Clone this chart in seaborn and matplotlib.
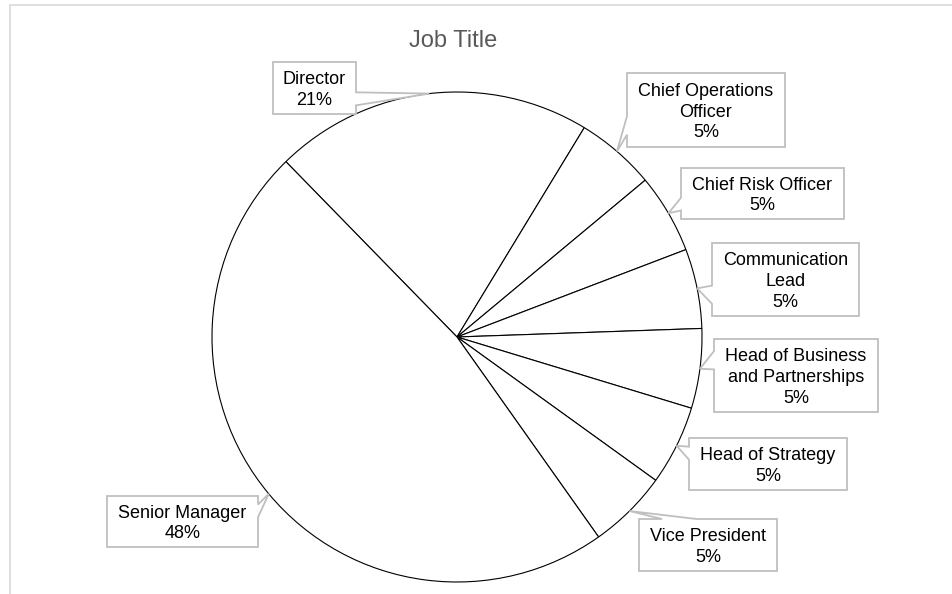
import numpy as np
import matplotlib
matplotlib.use("Agg")
import matplotlib.pyplot as plt
from matplotlib.patches import Polygon
import seaborn as sns

# ---- data ----
categories = ["Director", "Chief Operations\nOfficer", "Chief Risk Officer",
              "Communication\nLead", "Head of Business\nand Partnerships",
              "Head of Strategy", "Vice President", "Senior Manager"]
shares = [21.0, 5.25, 5.25, 5.25, 5.25, 5.25, 5.25, 47.5]
title = "Job Title"

# ---- layout (pixel coords, y measured from top) ----
W, H = 953, 594
center_px = (457, 337)
radius_px = 245
start_angle = 134.3
boxes = [  # x0, y0, x1, y1
    (273, 62, 356, 114),
    (627, 73, 785, 147),
    (681, 168, 844, 219),
    (712, 243, 859, 316),
    (714, 339, 878, 412),
    (689, 438, 847, 490),
    (639, 519, 777, 571),
    (107, 496, 258, 547),
]

sns.set_theme(style="white")
plt.rcParams["font.family"] = ["Liberation Sans", "DejaVu Sans"]

fig = plt.figure(figsize=(W / 100, H / 100), dpi=100)
ax = fig.add_axes([0, 0, 1, 1])

cx, cy = center_px[0], H - center_px[1]
wedges, _ = ax.pie(shares, startangle=start_angle, counterclock=False,
                   center=(cx, cy), radius=radius_px,
                   colors=["white"] * len(shares),
                   wedgeprops=dict(edgecolor="black", linewidth=0.8))
ax.set_xlim(0, W)
ax.set_ylim(0, H)
ax.set_aspect("equal")
ax.axis("off")

fs = 13
step = 20.7
cap = 13.0
edge_col = "#BFBFBF"

for w, cat, val, (x0, y0, x1, y1) in zip(wedges, categories, shares, boxes):
    mid = np.deg2rad((w.theta1 + w.theta2) / 2)
    tx = cx + radius_px * np.cos(mid)
    ty_img = H - (cy + radius_px * np.sin(mid))
    bw, bh = x1 - x0, y1 - y0
    bcx, bcy = (x0 + x1) / 2, (y0 + y1) / 2
    dx = (tx - bcx) / bw
    dy = (ty_img - bcy) / bh
    # build callout outline clockwise from top-left (image coords)
    if abs(dx) > abs(dy):
        if ty_img < bcy:
            b1, b2 = y0 + bh * 2 / 12, y0 + bh * 5 / 12
        else:
            b1, b2 = y0 + bh * 7 / 12, y0 + bh * 10 / 12
        if dx > 0:
            pts = [(x0, y0), (x1, y0), (x1, b1), (tx, ty_img), (x1, b2),
                   (x1, y1), (x0, y1)]
        else:
            pts = [(x0, y0), (x1, y0), (x1, y1), (x0, y1), (x0, b2),
                   (tx, ty_img), (x0, b1)]
    else:
        if tx < bcx:
            b1, b2 = x0 + bw * 2 / 12, x0 + bw * 5 / 12
        else:
            b1, b2 = x0 + bw * 7 / 12, x0 + bw * 10 / 12
        if dy < 0:
            pts = [(x0, y0), (b1, y0), (tx, ty_img), (b2, y0), (x1, y0),
                   (x1, y1), (x0, y1)]
        else:
            pts = [(x0, y0), (x1, y0), (x1, y1), (b2, y1), (tx, ty_img),
                   (b1, y1), (x0, y1)]
    poly = Polygon([(px, H - py) for px, py in pts], closed=True,
                   facecolor="white", edgecolor=edge_col, linewidth=1.3,
                   joinstyle="miter", zorder=5)
    ax.add_patch(poly)
    lines = cat.split("\n") + [f"{int(val + 0.5)}%"]
    n = len(lines)
    for i, line in enumerate(lines):
        base = bcy - (n - 1) * step / 2 + i * step + cap / 2
        ax.text(bcx, H - base, line, ha="center", va="baseline",
                fontsize=fs, color="black", zorder=6)

ax.text(453, H - 41, title, ha="center", va="center", fontsize=17,
        color="#595959")

border = "#D9D9D9"
ax.plot([10, 10], [H - 5, -2], color=border, lw=1.2, clip_on=False)
ax.plot([10, W + 2], [H - 5, H - 5], color=border, lw=1.2, clip_on=False)

fig.savefig("out.png", dpi=100)
